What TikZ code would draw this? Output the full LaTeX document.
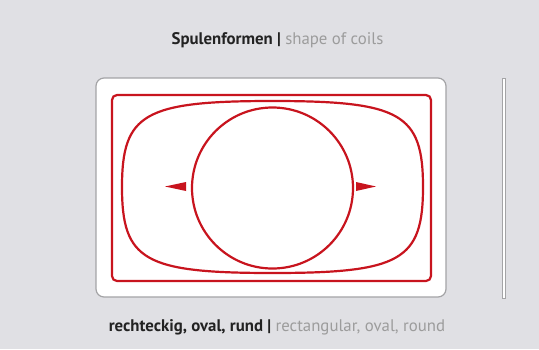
\documentclass[tikz,border=0pt]{standalone}
\usepackage{fontspec}
\setmainfont{PT Sans}
\definecolor{bg}{HTML}{E0E0E4}
\definecolor{coil}{HTML}{C8141E}
\definecolor{dark}{HTML}{222222}
\definecolor{lightg}{HTML}{9C9C9C}
\definecolor{frame}{HTML}{A4A4A6}
\begin{document}
\begin{tikzpicture}[x=1pt,y=-1pt,
  coilline/.style={draw=coil, line width=2.2pt},
  panelbox/.style={draw=frame, line width=1.2pt, fill=white, rounded corners=8pt, inner sep=0pt},
  coilrect/.style={coilline, rounded corners=5pt, inner sep=0pt},
  coilcirc/.style={coilline, circle, inner sep=0pt},
  tip/.style={fill=coil, draw=none},
  slider/.style={draw=frame, fill=white, line width=0.8pt, inner sep=0pt},
  lbl/.style={inner sep=0pt, anchor=base, font=\fontsize{16.8}{19}\selectfont}]
\fill[bg] (0,0) rectangle (539,349);
\useasboundingbox (0,0) rectangle (539,349);
\node[panelbox, minimum width=350pt, minimum height=219pt] (panel) at (271,187.5) {};
\node[coilrect, minimum width=319pt, minimum height=186pt] (rect) at (271.5,188) {};
\coordinate (oc) at (272.5,187);
\begin{scope}[shift={(oc)}]
\draw[coilline] (150.5,0) .. controls (150.5,73.4) and (128.4,86) .. (0,86)
  .. controls (-128.4,86) and (-150.5,73.4) .. (-150.5,0)
  .. controls (-150.5,-73.4) and (-128.4,-86) .. (0,-86)
  .. controls (128.4,-86) and (150.5,-73.4) .. (150.5,0) -- cycle;
\end{scope}
\node[coilcirc, minimum size=161pt] (circ) at (272.5,188) {};
\fill[tip] (165,186.5) -- (186,182) -- (186,191) -- cycle;
\fill[tip] (376,186.5) -- (356,182) -- (356,191) -- cycle;
\node[slider, minimum width=3pt, minimum height=220pt] (slide) at (503.5,188) {};
\node[lbl] (title) at (277.5,44) {{\color{dark}\bfseries Spulenformen |} {\color{lightg}shape of coils}};
\node[lbl] (caption) at (277,331) {{\color{dark}\bfseries rechteckig, oval, rund |} {\color{lightg}rectangular, oval, round}};
\end{tikzpicture}
\end{document}
